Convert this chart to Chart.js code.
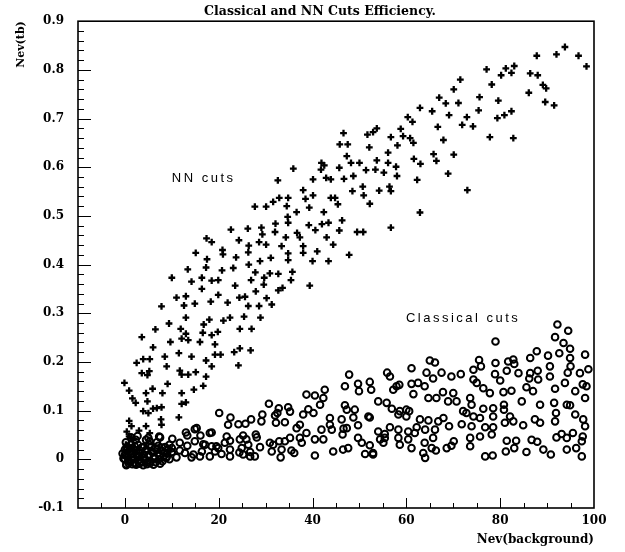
<!DOCTYPE html>
<html><head><meta charset="utf-8">
<script src="https://cdn.jsdelivr.net/npm/chart.js@4/dist/chart.umd.min.js"></script>
<style>html,body{margin:0;padding:0;background:#fff}#wrap{width:625px;height:552px}</style>
</head><body><div id="wrap"><canvas id="c" width="625" height="552"></canvas></div>
<script>
const chartTitle = "Classical and NN Cuts Efficiency.";
const xAxisTitle = "Nev(background)";
const yAxisTitle = "Nev(tb)";
const xTickLabels = [0, 20, 40, 60, 80, 100];
const yTickLabels = [-0.1, 0, 0.1, 0.2, 0.3, 0.4, 0.5, 0.6, 0.7, 0.8, 0.9];
const xMinorStep = 5, xMajorStep = 20;
const yMinorStep = 0.02, yMajorEvery = 5;

// NN cuts (crosses)
const nnX = [93.8,92.0,96.7,87.8,98.4,83.0,81.2,77.1,82.4,80.2,86.4,88.0,78.2,89.1,89.8,86.1,71.5,70.1,67.0,68.4,71.1,75.6,79.6,89.6,91.5,62.9,65.5,69.1,75.4,72.9,79.4,80.9,82.4,60.3,61.3,66.7,71.9,74.2,77.8,82.8,67.9,58.8,51.7,52.9,53.7,56.7,59.3,60.8,61.5,58.1,46.6,45.8,47.5,52.1,56.1,47.3,48.2,50.0,45.7,41.9,42.5,41.8,51.4,53.4,53.7,56.1,57.8,55.2,58.0,61.6,63.0,65.8,66.4,70.1,68.9,62.3,62.9,73.0,40.1,42.9,43.9,46.7,48.7,50.7,48.5,50.9,52.2,54.2,56.4,56.7,56.7,38.0,38.5,40.1,43.9,44.8,45.4,39.3,42.4,46.3,43.4,42.0,40.6,39.2,45.7,49.5,50.8,43.0,
38.0,44.4,38.0,41.0,47.8,40.0,43.4,39.4,37.3,
35.9,32.6,27.7,30.1,31.6,32.9,34.8,34.5,36.6,34.7,34.8,32.1,29.1,26.2,22.6,29.3,32.0,34.3,36.7,17.4,18.5,24.3,26.4,28.6,30.1,33.4,20.8,20.9,15.1,17.5,23.7,26.3,26.4,28.8,31.1,34.8,34.8,13.4,17.3,20.7,23.1,27.8,30.9,32.7,35.7,10.0,14.2,16.4,18.5,19.9,26.9,29.7,29.6,35.4,16.4,23.5,11.0,13.0,12.6,14.9,18.3,19.9,21.9,24.4,25.6,27.9,30.2,32.7,33.6,7.8,26.3,28.6,31.3,13.0,9.4,16.8,18.0,21.0,22.4,25.4,28.9,6.5,11.9,13.0,16.6,19.8,18.5,24.5,27.0,3.6,9.7,12.1,13.5,16.0,19.2,6.0,24.5,
23.3,26.8,24.2,2.5,3.9,5.3,8.5,11.5,14.2,17.3,19.2,20.4,18.5,8.9,3.6,5.2,4.8,11.7,12.1,13.5,15.1,17.3,-0.1,0.9,4.5,5.9,8.0,9.1,12.1,14.7,16.7,1.6,2.3,4.8,12.1,13.0,3.9,5.0,6.0,6.8,7.8,11.5,7.7,7.8,0.9,1.4,3.0,4.5,0.4,5.3,0.9,1.4,1.8,0.2,1.0,0.5,2.0];
const nnY = [0.847,0.832,0.829,0.829,0.807,0.808,0.803,0.801,0.794,0.789,0.793,0.789,0.770,0.769,0.762,0.753,0.780,0.760,0.743,0.731,0.732,0.744,0.737,0.734,0.727,0.722,0.715,0.707,0.717,0.703,0.701,0.707,0.715,0.703,0.693,0.683,0.687,0.684,0.662,0.660,0.656,0.679,0.667,0.672,0.680,0.662,0.664,0.660,0.650,0.645,0.670,0.647,0.647,0.641,0.630,0.623,0.609,0.609,0.599,0.609,0.604,0.595,0.594,0.595,0.614,0.609,0.601,0.589,0.582,0.617,0.607,0.627,0.613,0.626,0.587,0.574,0.507,0.553,0.575,0.578,0.575,0.576,0.582,0.560,0.551,0.542,0.525,0.552,0.560,0.551,0.476,0.553,0.535,0.542,0.537,0.537,0.524,0.517,0.508,0.491,0.486,0.483,0.471,0.481,0.470,0.467,0.467,0.456,
0.438,0.441,0.424,0.427,0.420,0.407,0.407,0.357,0.456,
0.597,0.573,0.519,0.519,0.529,0.537,0.537,0.520,0.508,0.498,0.486,0.484,0.476,0.474,0.472,0.462,0.467,0.456,0.465,0.454,0.446,0.450,0.439,0.446,0.441,0.438,0.430,0.421,0.424,0.411,0.415,0.425,0.400,0.407,0.414,0.423,0.409,0.390,0.394,0.388,0.393,0.384,0.382,0.381,0.385,0.373,0.365,0.373,0.367,0.368,0.368,0.373,0.359,0.368,0.350,0.357,0.332,0.335,0.316,0.320,0.324,0.338,0.322,0.332,0.334,0.345,0.331,0.347,0.352,0.314,0.315,0.315,0.318,0.291,0.279,0.277,0.287,0.285,0.291,0.293,0.291,0.267,0.268,0.258,0.260,0.262,0.255,0.268,0.268,0.251,0.241,0.248,0.245,0.241,0.236,0.230,0.228,
0.220,0.224,0.193,0.198,0.206,0.206,0.211,0.218,0.211,0.203,0.215,0.215,0.191,0.191,0.177,0.181,0.173,0.182,0.174,0.174,0.179,0.170,0.157,0.141,0.136,0.145,0.136,0.155,0.136,0.143,0.151,0.125,0.116,0.119,0.114,0.117,0.099,0.095,0.104,0.105,0.107,0.086,0.082,0.071,0.079,0.068,0.059,0.068,0.057,0.054,0.047,0.044,0.040,0.030,0.025,0.015,0.020];

// Classical cuts (circles)
const clX = [92.2,94.5,79.0,91.7,93.5,94.9,87.8,86.4,90.2,92.6,94.9,98.1,65.0,66.1,75.5,79.0,81.7,82.8,83.0,74.3,75.9,61.1,64.3,65.7,67.5,69.6,71.6,78.9,80.0,81.4,83.9,86.4,88.0,86.2,88.1,90.6,94.4,95.0,97.0,98.8,90.6,47.8,55.9,56.5,46.9,49.7,49.9,52.2,52.5,57.2,57.9,58.5,61.1,62.5,63.9,61.5,64.7,66.4,67.8,70.0,68.9,70.7,73.6,74.3,75.0,76.4,77.8,80.7,82.4,85.6,87.0,91.7,93.8,96.0,97.6,98.4,98.1,84.6,88.5,91.5,94.2,94.9,96.0,97.7,98.1,91.9,91.7,87.4,88.5,84.9,82.8,81.0,80.8,80.8,82.1,78.5,78.5,76.4,73.9,72.8,74.3,75.7,72.1,71.8,73.9,76.8,78.5,78.2,73.6,73.6,75.7,76.8,78.4,81.2,83.0,83.4,81.4,85.6,86.7,87.9,89.2,90.8,92.0,93.1,94.2,95.5,97.6,94.2,96.2,97.4,97.4,65.7,65.4,63.9,63.6,66.1,64.0,62.2,61.8,68.6,69.6,70.1,66.8,67.9,69.1,58.6,60.0,60.6,62.9,64.7,58.3,60.4,58.3,60.4,61.1,58.6,56.5,54.0,55.4,55.4,54.4,55.1,52.2,52.9,55.8,56.9,58.3,60.0,54.0,52.2,49.7,47.3,46.6,46.4,48.7,51.9,47.3,46.9,49.0,43.7,46.2,41.9,43.7,44.1,38.7,37.3,37.7,40.5,42.3,40.5,44.4,46.5,47.6,49.7,50.5,51.2,52.9,64.0,66.3,38.7,40.5,42.6,42.3,39.1,40.2,38.0,41.6,37.3,
30.7,32.8,34.8,35.2,29.3,32.0,32.5,20.1,22.5,22.0,24.2,25.7,26.9,29.1,32.2,34.1,36.6,18.1,21.7,22.4,25.2,25.9,24.5,27.9,28.1,16.1,17.1,18.5,19.9,19.2,21.3,22.4,20.6,24.4,26.3,24.9,26.7,25.2,22.4,28.8,27.7,26.7,30.9,31.6,32.9,34.1,35.2,31.3,33.4,35.5,33.2,36.1,
13.0,14.9,13.3,18.5,7.5,5.3,10.1,11.7,13.3,14.9,16.7,19.5,10.0,11.7,12.8,16.4,14.6,11.0,14.2,16.0,18.1,7.3,15.3,
0,0,0,0.3,0.5,0.6,1,1,1.2,1.5,1.8,2,2.2,2.5,2.8,3,3.2,3.5,3.8,4,4.3,4.6,5,5.2,5.5,5.8,6.2,6.5,7,7.3,7.8,8.2,8.6,9,9.5,10,-0.5,-0.3,0.2,2.3,4.5,6.8,9.5,
0.1,0.4,0.7,1.1,1.4,1.7,2.1,2.6,2.9,3.3,3.6,4.1,4.4,4.8,5.1,5.6,6.0,6.4,6.9,7.4,7.9,8.4,8.8,9.3,0.3,0.8,1.6,2.4,3.1,3.9,4.7,5.4,6.1,6.6,7.5,8.0,8.9,1.3,2.7,5.0,7.1];
const clY = [0.277,0.264,0.242,0.251,0.239,0.227,0.222,0.208,0.213,0.218,0.208,0.215,0.203,0.199,0.204,0.198,0.201,0.205,0.196,0.184,0.191,0.187,0.178,0.166,0.178,0.170,0.175,0.175,0.162,0.182,0.177,0.177,0.182,0.166,0.164,0.191,0.178,0.191,0.177,0.185,0.170,0.174,0.178,0.170,0.150,0.155,0.140,0.159,0.143,0.143,0.150,0.153,0.155,0.157,0.150,0.134,0.126,0.126,0.138,0.136,0.119,0.119,0.126,0.164,0.157,0.146,0.136,0.138,0.141,0.148,0.140,0.145,0.157,0.140,0.154,0.150,0.126,0.119,0.112,0.116,0.112,0.111,0.092,0.082,0.068,0.095,0.078,0.082,0.075,0.070,0.078,0.075,0.112,0.102,0.088,0.105,0.088,0.104,0.112,0.095,0.088,0.085,0.099,0.072,0.068,0.066,0.066,0.051,0.044,0.027,0.047,0.006,0.008,0.016,0.023,0.038,0.038,0.015,0.040,0.036,0.020,0.010,0.045,0.052,0.044,0.054,0.047,0.020,0.023,0.006,0.037,0.044,0.023,0.034,0.013,0.061,0.061,0.066,0.054,0.023,0.028,0.037,0.078,0.085,0.068,0.099,0.088,0.099,0.082,0.080,0.061,0.057,0.044,0.041,0.023,0.030,0.066,0.057,0.052,0.044,0.041,0.034,0.029,0.010,0.116,0.104,0.092,0.102,0.119,0.086,0.070,0.064,0.063,0.051,0.086,0.088,0.102,0.111,0.102,0.085,0.082,0.061,0.071,0.061,0.054,0.044,0.034,0.041,0.041,0.008,0.016,0.020,0.023,0.044,0.034,0.011,0.013,0.003,0.018,0.133,0.131,0.143,0.126,0.103,0.095,0.092,0.112,0.071,
0.114,0.105,0.107,0.098,0.092,0.090,0.095,0.095,0.086,0.071,0.072,0.073,0.082,0.078,0.075,0.076,0.064,0.054,0.047,0.038,0.049,0.041,0.041,0.051,0.045,0.049,0.030,0.027,0.023,0.016,0.034,0.020,0.011,0.014,0.030,0.023,0.015,0.010,0.006,0.025,0.006,0.006,0.034,0.030,0.037,0.037,0.044,0.016,0.020,0.018,0.004,0.013,
0.055,0.062,0.049,0.055,0.045,0.037,0.042,0.034,0.028,0.037,0.031,0.027,0.023,0.018,0.013,0.016,0.010,0.004,0.004,0.006,0.006,0.047,0.064,
0.02,0.01,0.0,-0.01,0.025,0.005,0.015,-0.005,0.03,0.01,0.0,0.02,-0.008,0.012,0.03,0.005,0.018,-0.005,0.025,0.01,0.0,0.02,0.008,0.03,-0.004,0.015,0.005,0.022,0.012,0.0,0.018,0.006,0.025,0.012,0.0,0.015,0.012,0.002,0.035,0.04,0.04,0.035,0.03,
0.008,0.018,-0.003,0.022,0.004,0.012,0.027,0.008,-0.002,0.014,0.024,0.003,0.016,-0.006,0.010,0.026,0.014,0.002,0.020,0.008,0.024,0.014,0.003,0.020,-0.012,-0.008,-0.010,-0.011,-0.009,-0.012,-0.010,-0.008,-0.011,-0.006,-0.009,-0.004,0.005,0.045,0.048,0.044,0.028];

const textLabels = [
  {text: "NN cuts", x: 10.0, y: 0.577},
  {text: "Classical cuts", x: 59.9, y: 0.290}
];

const serifBold = '"DejaVu Serif", "Liberation Serif", serif';

const decor = {
  id: 'decor',
  afterDraw(chart) {
    const {ctx, chartArea: a, scales: {x, y}} = chart;
    ctx.save();
    ctx.strokeStyle = '#000';
    ctx.lineWidth = 1.6;
    ctx.strokeRect(a.left, a.top, a.right - a.left, a.bottom - a.top);
    ctx.lineWidth = 1;
    ctx.beginPath();
    for (let v = x.min + xMinorStep; v < x.max - 1e-9; v += xMinorStep) {
      const px = Math.round(x.getPixelForValue(v)) + 0.5;
      const len = (Math.abs(v % xMajorStep) < 1e-9) ? 10 : 5;
      ctx.moveTo(px, a.bottom);
      ctx.lineTo(px, a.bottom - len);
    }
    const n = Math.round((y.max - y.min) / yMinorStep);
    for (let i = 1; i < n; i++) {
      const v = y.min + i * yMinorStep;
      const py = Math.round(y.getPixelForValue(v)) + 0.5;
      const len = (i % yMajorEvery === 0) ? 13 : 6;
      ctx.moveTo(a.left, py);
      ctx.lineTo(a.left + len, py);
    }
    ctx.stroke();
    // main title
    ctx.fillStyle = '#000';
    ctx.font = 'bold 12.5px ' + serifBold;
    ctx.textAlign = 'center';
    ctx.textBaseline = 'middle';
    ctx.fillText(chartTitle, 320, 12);
    // in-plot labels
    ctx.font = '13px "Liberation Sans", Arial, sans-serif';
    ctx.letterSpacing = '2.5px';
    ctx.textAlign = 'left';
    textLabels.forEach(l => {
      ctx.fillText(l.text, x.getPixelForValue(l.x), y.getPixelForValue(l.y));
    });
    ctx.restore();
  }
};

const fmtY = v => (v === 0 ? '0' : v.toFixed(1));

new Chart(document.getElementById('c'), {
  type: 'scatter',
  data: {
    datasets: [
      {
        label: 'Classical cuts',
        data: clX.map((v, i) => ({x: v, y: clY[i]})),
        pointStyle: 'circle',
        pointRadius: 3.3,
        borderColor: '#000',
        backgroundColor: 'rgba(0,0,0,0)',
        borderWidth: 2
      },
      {
        label: 'NN cuts',
        data: nnX.map((v, i) => ({x: v, y: nnY[i]})),
        pointStyle: 'cross',
        pointRadius: 3.4,
        borderColor: '#000',
        backgroundColor: '#000',
        borderWidth: 2.3
      }
    ]
  },
  options: {
    responsive: false,
    animation: false,
    devicePixelRatio: 1,
    layout: {padding: {top: 20, right: 31, bottom: 0, left: 0}},
    plugins: {legend: {display: false}, tooltip: {enabled: false}, title: {display: false}},
    scales: {
      x: {
        type: 'linear', min: -10, max: 100,
        afterBuildTicks: s => { s.ticks = xTickLabels.map(v => ({value: v})); },
        afterFit: s => { s.height = 44; },
        grid: {display: false, drawTicks: false},
        border: {display: false},
        ticks: {color: '#000', padding: 6, maxRotation: 0, font: {family: serifBold, weight: 'bold', size: 12}},
        title: {display: true, text: xAxisTitle, align: 'end', color: '#000', padding: {top: 0, bottom: 5}, font: {family: serifBold, weight: 'bold', size: 12}}
      },
      y: {
        type: 'linear', min: -0.1, max: 0.9,
        afterBuildTicks: s => { s.ticks = yTickLabels.map(v => ({value: v})); },
        afterFit: s => { s.width = 78; },
        grid: {display: false, drawTicks: false},
        border: {display: false},
        ticks: {color: '#000', padding: 14, callback: v => fmtY(v), font: {family: serifBold, weight: 'bold', size: 12}},
        title: {display: true, text: yAxisTitle, align: 'end', color: '#000', padding: {top: 15, bottom: 0}, font: {family: serifBold, weight: 'bold', size: 11}}
      }
    }
  },
  plugins: [decor]
});
</script>
</body></html>
